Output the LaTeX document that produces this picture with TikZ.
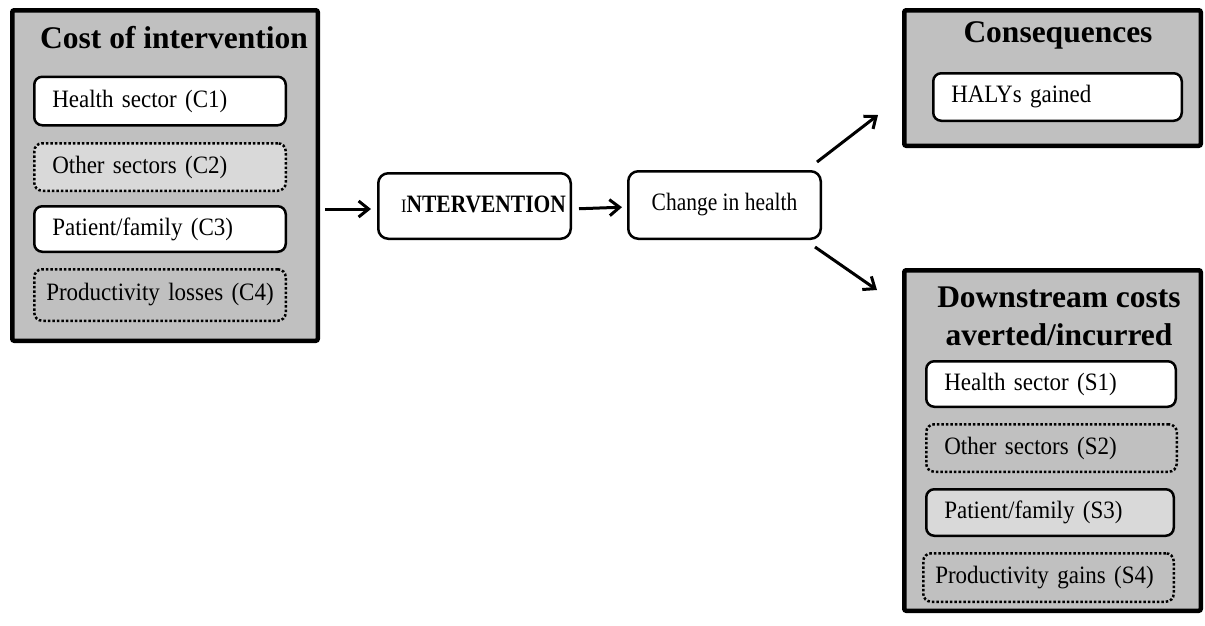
\documentclass[tikz,border=0pt]{standalone}
\usepackage{fontspec}
\setmainfont{Liberation Serif}
\newfontfamily\bodyfont[FakeStretch=0.92]{Liberation Serif}
\newfontfamily\narrowfont[FakeStretch=0.86]{Liberation Serif}
\usetikzlibrary{arrows.meta}
\definecolor{boxgray}{HTML}{C0C0C0}
\definecolor{lightgray2}{HTML}{D9D9D9}
\begin{document}
\begin{tikzpicture}[x=1pt,y=-1pt,
  outerbox/.style={draw=black, line width=4.5pt, fill=boxgray, rounded corners=2pt, inner sep=0pt},
  inbox/.style={draw=black, line width=2.5pt, rounded corners=8pt, inner xsep=18pt, inner ysep=0pt, align=left,
     font=\bodyfont\fontsize{25}{29}\selectfont},
  dotbox/.style={inbox, dash pattern=on 2.5pt off 2pt},
  title/.style={font=\fontsize{31.5}{38}\selectfont\bfseries, align=center, inner sep=0pt},
  flowbox/.style={draw=black, line width=2.5pt, rounded corners=10pt, inner sep=0pt},
  arr/.style={line width=3pt, -{Straight Barb[length=10pt,width=16pt,line width=3pt]}}
]
\useasboundingbox (0,0) rectangle (1205,625);
\fill[white] (0,0) rectangle (1205,625);

% Left group
\node[outerbox, minimum width=305.5pt, minimum height=330.5pt] (cost) at (165,175.5) {};
\node[title] (costt) at (174,38) {Cost of intervention};
\node[inbox, fill=white, minimum width=251.5pt, minimum height=48.5pt, text width=215.5pt] (c1) at (160,101) {Health sector (C1)};
\node[dotbox, fill=lightgray2, minimum width=251.5pt, minimum height=47.5pt, text width=215.5pt] (c2) at (160,167) {Other sectors (C2)};
\node[inbox, fill=white, minimum width=251.5pt, minimum height=45.5pt, text width=215.5pt] (c3) at (160,229) {Patient/family (C3)};
\node[dotbox, fill=boxgray, inner xsep=12pt, minimum width=251.5pt, minimum height=51.5pt, text width=227.5pt] (c4) at (160,295) {Productivity losses (C4)};

% Middle
\node[flowbox, fill=white, minimum width=192.5pt, minimum height=65.5pt,
  font=\narrowfont\fontsize{25}{29}\selectfont\bfseries] (interv) at (474.5,206)
  {\raisebox{4pt}{\hspace*{18pt}{\mdseries\fontsize{19}{21}\selectfont I}NTERVENTION}};
\node[flowbox, fill=white, minimum width=192.5pt, minimum height=67.5pt,
  font=\narrowfont\fontsize{25}{29}\selectfont] (change) at (724.5,205) {Change in health};

% Consequences
\node[outerbox, minimum width=296.5pt, minimum height=135.5pt] (cons) at (1052.5,78) {};
\node[title] (const) at (1058,35) {Consequences};
\node[inbox, fill=white, minimum width=248.5pt, minimum height=47.5pt, text width=212.5pt] (haly) at (1057.5,97) {HALYs gained};

% Downstream
\node[outerbox, minimum width=296.5pt, minimum height=340.5pt] (down) at (1052.5,440.5) {};
\node[title] (downt) at (1059,316) {Downstream costs\\averted/incurred};
\node[inbox, fill=white, minimum width=249.5pt, minimum height=45.5pt, text width=213.5pt] (s1) at (1051,384) {Health sector (S1)};
\node[dotbox, fill=boxgray, minimum width=250.5pt, minimum height=47.5pt, text width=214.5pt] (s2) at (1051.5,448) {Other sectors (S2)};
\node[inbox, fill=lightgray2, minimum width=247.5pt, minimum height=46.5pt, text width=211.5pt] (s3) at (1050,512.5) {Patient/family (S3)};
\node[dotbox, fill=boxgray, inner xsep=12pt, minimum width=250.5pt, minimum height=48.5pt, text width=226.5pt] (s4) at (1048.5,577.5) {Productivity gains (S4)};

% Arrows
\coordinate (a1s) at ([yshift=-3pt]interv.west -| cost.east);
\draw[arr, shorten <=5pt, shorten >=6pt] (a1s) -- ([yshift=-3pt]interv.west);
\draw[arr, shorten <=7pt, shorten >=5pt] ([yshift=-3pt]interv.east) -- ([yshift=-2pt]change.west);
\coordinate (u1) at (817,162);
\coordinate (u2) at (878,115);
\coordinate (d1) at (815,247);
\coordinate (d2) at (877,290);
\draw[arr] (u1) -- (u2);
\draw[arr] (d1) -- (d2);
\end{tikzpicture}
\end{document}
